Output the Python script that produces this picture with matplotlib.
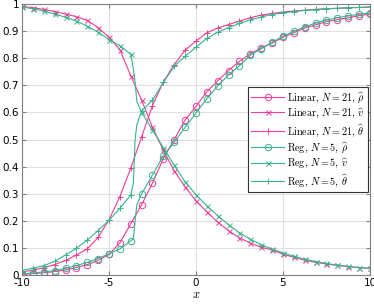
import numpy as np
from matplotlib import pyplot as plt

plt.rcParams["mathtext.fontset"] = "cm"
plt.rcParams["axes.unicode_minus"] = False

x = [-10, -9.375, -8.75, -8.125, -7.5, -6.875, -6.25, -5.625, -5, -4.375, -3.75,
     -3.125, -2.5, -1.875, -1.25, -0.625, 0, 0.625, 1.25, 1.875, 2.5, 3.125,
     3.75, 4.375, 5, 5.625, 6.25, 6.875, 7.5, 8.125, 8.75, 9.375, 10]

# Reg curves have a few extra line points around the jump
x_reg = x[:11] + [-3.6, -3.5, -3.4] + x[11:]

lin_rho = [0.004, 0.007, 0.010, 0.014, 0.020, 0.029, 0.040, 0.055, 0.077, 0.120, 0.190,
           0.260, 0.340, 0.430, 0.500, 0.572, 0.622, 0.676, 0.716, 0.754, 0.788, 0.815,
           0.838, 0.855, 0.876, 0.893, 0.910, 0.922, 0.934, 0.941, 0.948, 0.956, 0.961]
lin_v = [0.990, 0.985, 0.979, 0.971, 0.962, 0.952, 0.938, 0.912, 0.876, 0.830, 0.735,
         0.645, 0.545, 0.460, 0.385, 0.326, 0.274, 0.234, 0.196, 0.165, 0.138, 0.119,
         0.104, 0.094, 0.078, 0.067, 0.056, 0.048, 0.042, 0.037, 0.032, 0.029, 0.026]
lin_theta = [0.012, 0.020, 0.028, 0.040, 0.055, 0.075, 0.098, 0.140, 0.205, 0.290, 0.395,
             0.510, 0.625, 0.712, 0.776, 0.829, 0.862, 0.893, 0.910, 0.923, 0.936, 0.948,
             0.958, 0.964, 0.969, 0.973, 0.976, 0.979, 0.981, 0.983, 0.985, 0.986, 0.987]

reg_rho = [0.006, 0.009, 0.013, 0.018, 0.026, 0.036, 0.048, 0.062, 0.080, 0.097, 0.128,
           0.135, 0.200, 0.260,
           0.300, 0.370, 0.440, 0.490, 0.545, 0.598, 0.650, 0.698, 0.738, 0.772, 0.810,
           0.833, 0.858, 0.880, 0.898, 0.915, 0.928, 0.940, 0.948, 0.955, 0.961, 0.966]
reg_v = [0.988, 0.981, 0.973, 0.962, 0.950, 0.936, 0.917, 0.895, 0.868, 0.845, 0.814,
         0.760, 0.710, 0.640,
         0.600, 0.535, 0.470, 0.405, 0.345, 0.297, 0.256, 0.220, 0.186, 0.157, 0.133,
         0.113, 0.097, 0.083, 0.070, 0.060, 0.051, 0.044, 0.038, 0.033, 0.029, 0.026]
reg_theta = [0.018, 0.027, 0.036, 0.052, 0.075, 0.100, 0.130, 0.165, 0.203, 0.247, 0.296,
             0.340, 0.500, 0.555,
             0.605, 0.645, 0.710, 0.770, 0.806, 0.840, 0.872, 0.895, 0.912, 0.927, 0.940,
             0.951, 0.960, 0.966, 0.971, 0.975, 0.978, 0.981, 0.983, 0.985, 0.986, 0.988]

pink = "#ef3c96"
green = "#36b48c"
reg_marks = list(range(11)) + list(range(14, len(x_reg)))


def main():
    fig = plt.figure(figsize=(3.74, 3.04), dpi=100)
    ax = fig.add_axes([0.059, 0.094, 0.93, 0.894])

    kw = dict(lw=0.8, ms=4.6, mew=0.7, mfc="none")
    ax.plot(x, lin_rho, color=pink, marker="o", label=r"Linear, $N = 21$, $\widehat{\rho}$", **kw)
    ax.plot(x, lin_v, color=pink, marker="x", label=r"Linear, $N = 21$, $\widehat{v}$",
            **dict(kw, ms=3.6))
    ax.plot(x, lin_theta, color=pink, marker="+", label=r"Linear, $N = 21$, $\widehat{\theta}$", **kw)
    ax.plot(x_reg, reg_rho, color=green, marker="o", markevery=reg_marks,
            label=r"Reg, $N = 5$, $\widehat{\rho}$", **kw)
    ax.plot(x_reg, reg_v, color=green, marker="x", markevery=reg_marks,
            label=r"Reg, $N = 5$, $\widehat{v}$", **dict(kw, ms=3.6))
    ax.plot(x_reg, reg_theta, color=green, marker="+", markevery=reg_marks,
            label=r"Reg, $N = 5$, $\widehat{\theta}$", **kw)

    ax.set_xlim(-10, 10)
    ax.set_ylim(0, 1)
    ax.set_xticks([-10, -5, 0, 5, 10])
    ax.set_yticks(np.arange(0, 1.01, 0.1))
    ax.set_yticklabels(["0", "0.1", "0.2", "0.3", "0.4", "0.5", "0.6", "0.7", "0.8", "0.9", "1"])
    ax.grid(True, color="#e0e0e0", lw=0.8)
    ax.set_axisbelow(True)
    ax.tick_params(direction="in", top=True, right=True, length=3, width=0.8,
                   color="#808080", labelsize=7.5, pad=2)
    for s in ax.spines.values():
        s.set_color("#808080")
        s.set_linewidth(0.8)
    ax.set_xlabel("$x$", fontsize=9, labelpad=0)

    leg = ax.legend(loc="center right", prop={"family": "cmr10", "size": 7.3},
                    fancybox=False, framealpha=1, edgecolor="#333333",
                    handlelength=3.2, labelspacing=0.2, borderpad=0.3,
                    handletextpad=0.3, borderaxespad=0.2)
    leg.get_frame().set_linewidth(0.8)

    fig.savefig("out.png", dpi=100)


if __name__ == "__main__":
    main()
